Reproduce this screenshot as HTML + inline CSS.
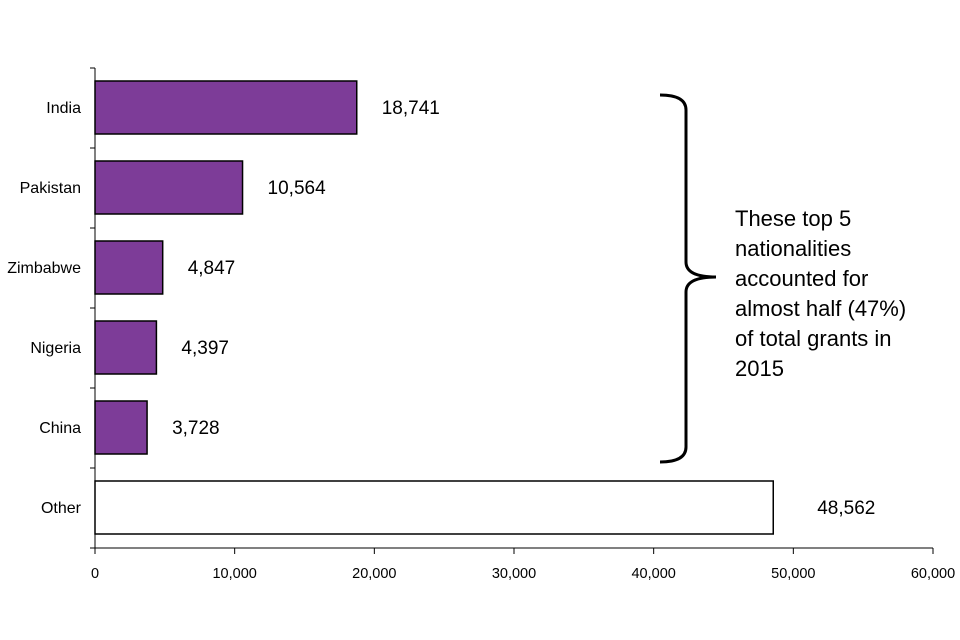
<!DOCTYPE html>
<html><head><meta charset="utf-8"><style>
html,body{margin:0;padding:0;background:#fff;}
svg{display:block;font-family:"Liberation Sans",Arial,sans-serif;}
</style></head><body>
<svg id="chart" width="960" height="640" viewBox="0 0 960 640" xmlns="http://www.w3.org/2000/svg">
<g id="axes"></g><g id="bars"></g>
<path d="M660 95 Q686 95 686 110 L686 262 Q686 277 716 277 Q686 277 686 292 L686 447 Q686 462 660 462" fill="none" stroke="#000" stroke-width="3"/>
<text font-size="22" fill="#000">
<tspan x="735" y="226">These top 5</tspan>
<tspan x="735" y="256">nationalities</tspan>
<tspan x="735" y="286">accounted for</tspan>
<tspan x="735" y="316">almost half (47%)</tspan>
<tspan x="735" y="346">of total grants in</tspan>
<tspan x="735" y="376">2015</tspan>
</text>
</svg>
<script>
const categories = ["India","Pakistan","Zimbabwe","Nigeria","China","Other"];
const values = [18741,10564,4847,4397,3728,48562];
const valueLabels = ["18,741","10,564","4,847","4,397","3,728","48,562"];
const xTicks = [0,10000,20000,30000,40000,50000,60000];
const xTickLabels = ["0","10,000","20,000","30,000","40,000","50,000","60,000"];
const NS="http://www.w3.org/2000/svg";
const x0=95,x1=933,y0=68,y1=548,xMax=60000;
const band=(y1-y0)/categories.length;
function xs(v){return x0+(v/xMax)*(x1-x0);}
function ys(i){return y0+i*band;}
function mk(t,a,p){const e=document.createElementNS(NS,t);for(const k in a)e.setAttribute(k,a[k]);p.appendChild(e);return e;}
const axes=document.getElementById('axes'),bars=document.getElementById('bars');
const ya=mk('line',{x1:x0,y1:y0,x2:x0,y2:y1,stroke:'#000','stroke-width':1},axes);


const xa=mk('line',{x1:x0,y1:y1,x2:x1,y2:y1,stroke:'#000','stroke-width':1},axes);


for(let i=0;i<=categories.length;i++){
  const t=mk('line',{x1:x0-5,y1:ys(i),x2:x0,y2:ys(i),stroke:'#000'},axes);
  
  
}
xTicks.forEach((v,i)=>{
  const t=mk('line',{x1:xs(v),y1:y1,x2:xs(v),y2:y1+6,stroke:'#000'},axes);
  
  
  const l=mk('text',{x:xs(v),y:y1+30,'text-anchor':'middle','font-size':14.5,fill:'#000'},axes);
  l.textContent=xTickLabels[i];
  
  
});
categories.forEach((c,i)=>{
  const cy=ys(i)+band/2;
  const other=c==="Other";
  const r=mk('rect',{x:x0,y:cy-27,width:xs(values[i])-x0,height:53,fill:other?'#fff':'#7d3c98',stroke:'#000','stroke-width':1.5},bars);
  
  
  const l=mk('text',{x:81,y:cy+5,'text-anchor':'end','font-size':16,fill:'#000'},bars);
  l.textContent=c;
  
  
  const v=mk('text',{x:xs(values[i])+(other?44:25),y:cy+6,'font-size':19,fill:'#000'},bars);
  v.textContent=valueLabels[i];
  
  
});
</script>
</body></html>
